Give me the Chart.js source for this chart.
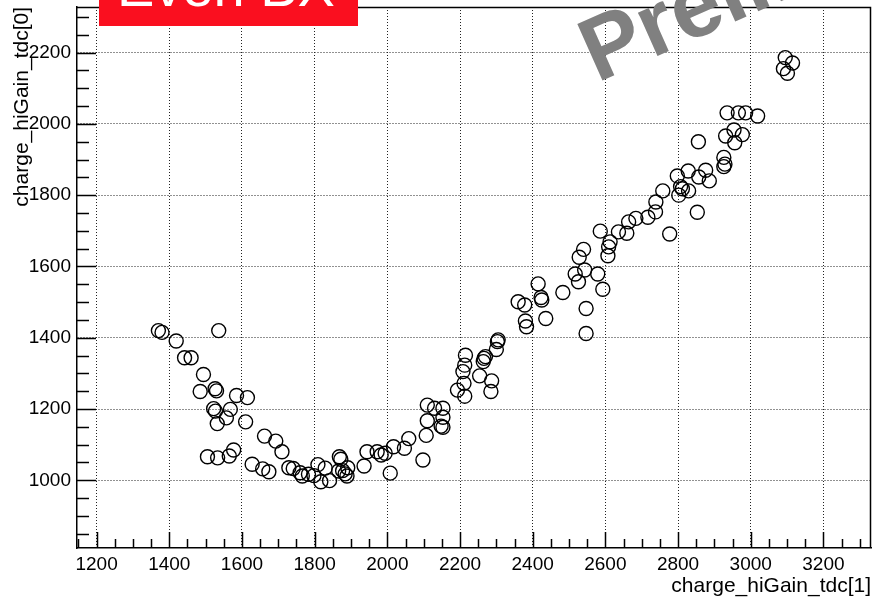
<!DOCTYPE html>
<html>
<head>
<meta charset="utf-8">
<script src="https://cdn.jsdelivr.net/npm/chart.js@4.4.0/dist/chart.umd.min.js"></script>
<style>
  body { margin: 0; background: #fff; }
  canvas { display: block; }
</style>
</head>
<body>
<canvas id="grafico" width="873" height="599"></canvas>
<script>
// charge_hiGain_tdc[1] (eixo x)
const tdc1 = [
  1370, 1380, 1419, 1536, 1442, 1460, 1494, 1485, 1526, 1530, 1585, 1615, 1522, 1527,
  1568, 1557, 1532, 1610, 1662, 1693, 1710, 1505, 1533, 1565, 1577, 1628, 1657, 1674,
  1729, 1741, 1760, 1766, 1783, 1798, 1809, 1829, 1817, 1841, 1868, 1866, 1877, 1889,
  1872, 1891, 1884, 1936, 1944, 1972, 1983, 1994, 2008, 2017, 2047, 2059, 2098, 2107,
  2110, 2110, 2130, 2153, 2153, 2148, 2153, 2193, 2211, 2213, 2208, 2213, 2215, 2254,
  2264, 2270, 2285, 2287, 2300, 2303, 2305, 2266, 2360, 2378, 2380, 2383, 2415, 2423,
  2425, 2436, 2483, 2547, 2547, 2517, 2526, 2543, 2579, 2593, 2528, 2540, 2586, 2607,
  2609, 2613, 2636, 2659, 2664, 2684, 2717, 2738, 2739, 2758, 2777, 2798, 2802, 2807,
  2812, 2829, 2828, 2853, 2857, 2876, 2886, 2856, 2926, 2926, 2929, 2931, 2935, 2954,
  2956, 2977, 2966, 2986, 3019, 3095, 3115, 3090, 3101
];
// charge_hiGain_tdc[0] (eixo y)
const tdc0 = [
  1420, 1415, 1391, 1420, 1344, 1344, 1297, 1249, 1257, 1251, 1238, 1232, 1201, 1194,
  1199, 1175, 1159, 1164, 1124, 1110, 1080, 1066, 1063, 1068, 1085, 1045, 1032, 1024,
  1035, 1033, 1021, 1012, 1017, 1013, 1044, 1034, 996, 999, 1066, 1026, 1027, 1012,
  1059, 1035, 1018, 1040, 1080, 1080, 1071, 1076, 1020, 1094, 1090, 1117, 1057, 1126,
  1167, 1211, 1202, 1202, 1177, 1152, 1149, 1253, 1272, 1236, 1305, 1323, 1351, 1293,
  1333, 1347, 1249, 1279, 1367, 1389, 1394, 1342, 1501, 1492, 1447, 1431, 1551, 1513,
  1506, 1454, 1527, 1482, 1412, 1579, 1557, 1590, 1579, 1536, 1626, 1648, 1699, 1630,
  1655, 1669, 1697, 1693, 1725, 1735, 1738, 1753, 1781, 1812, 1691, 1854, 1800, 1824,
  1818, 1812, 1868, 1752, 1851, 1870, 1840, 1950, 1906, 1880, 1887, 1966, 2031, 1983,
  1947, 1970, 2031, 2031, 2022, 2186, 2171, 2155, 2142
];

const xTicks = [1200, 1400, 1600, 1800, 2000, 2200, 2400, 2600, 2800, 3000, 3200];
const yTicks = [1000, 1200, 1400, 1600, 1800, 2000, 2200];

const fonte = 'Liberation Sans, Arial, Helvetica, sans-serif';

// moldura, marcas internas, títulos e etiquetas no estilo ROOT
const estiloRoot = {
  id: 'estiloRoot',
  afterDraw(chart) {
    const ctx = chart.ctx;
    const a = chart.chartArea;
    const sx = chart.scales.x;
    const sy = chart.scales.y;
    ctx.save();
    ctx.strokeStyle = '#000';

    // moldura superior e direita
    ctx.lineWidth = 1.5;
    ctx.beginPath();
    ctx.moveTo(a.left, a.top + 0.5);
    ctx.lineTo(a.right - 0.5, a.top + 0.5);
    ctx.lineTo(a.right - 0.5, a.bottom);
    ctx.stroke();

    // marcas do eixo x (para dentro)
    ctx.lineWidth = 1.5;
    ctx.beginPath();
    for (let v = Math.ceil(sx.min / 50) * 50; v <= sx.max; v += 50) {
      const px = Math.round(sx.getPixelForValue(v)) + 0.5;
      const len = v % 200 === 0 ? 16 : 9;
      ctx.moveTo(px, a.bottom);
      ctx.lineTo(px, a.bottom - len);
    }
    // marcas do eixo y
    for (let v = Math.ceil(sy.min / 50) * 50; v <= sy.max; v += 50) {
      const py = Math.round(sy.getPixelForValue(v)) + 0.5;
      const len = v % 200 === 0 ? 19 : 12;
      ctx.moveTo(a.left, py);
      ctx.lineTo(a.left + len, py);
    }
    ctx.stroke();

    // títulos dos eixos
    ctx.fillStyle = '#000';
    ctx.font = '21px ' + fonte;
    ctx.textAlign = 'right';
    ctx.textBaseline = 'alphabetic';
    ctx.fillText('charge_hiGain_tdc[1]', a.right, 592);
    ctx.save();
    ctx.translate(28, 7);
    ctx.rotate(-Math.PI / 2);
    ctx.fillText('charge_hiGain_tdc[0]', 0, 0);
    ctx.restore();

    // marca d'água
    ctx.save();
    ctx.translate(597, 83);
    ctx.rotate(-24 * Math.PI / 180);
    ctx.fillStyle = '#808080';
    ctx.font = 'bold 90px ' + fonte;
    ctx.textAlign = 'left';
    ctx.fillText('Preliminary', 0, 0);
    ctx.restore();

    // caixa "Even BX"
    ctx.fillStyle = '#fa0f1f';
    ctx.fillRect(99, 0, 259, 26);
    ctx.save();
    ctx.beginPath();
    ctx.rect(99, 0, 259, 26);
    ctx.clip();
    ctx.fillStyle = '#fff';
    ctx.font = '56px ' + fonte;
    ctx.textAlign = 'left';
    ctx.fillText('Even BX', 117, 6);
    ctx.restore();

    ctx.restore();
  }
};

const ctxGrafico = document.getElementById('grafico').getContext('2d');
const grafico = new Chart(ctxGrafico, {
  type: 'scatter',
  data: {
    datasets: [{
      label: 'tdc',
      data: tdc1.map((v, i) => ({ x: v, y: tdc0[i] })),
      pointStyle: 'circle',
      pointRadius: 7,
      pointHoverRadius: 7,
      pointBackgroundColor: 'rgba(0,0,0,0)',
      pointBorderColor: '#000',
      pointBorderWidth: 1.4
    }]
  },
  options: {
    responsive: false,
    animation: false,
    events: [],
    layout: { autoPadding: false, padding: { top: 7, right: 2, left: 0, bottom: 0 } },
    plugins: {
      legend: { display: false },
      tooltip: { enabled: false }
    },
    scales: {
      x: {
        type: 'linear',
        min: 1146,
        max: 3331,
        afterBuildTicks: s => { s.ticks = xTicks.map(v => ({ value: v })); },
        afterFit: s => { s.height = 51; s.paddingLeft = 0; s.paddingRight = 0; },
        ticks: {
          color: '#000',
          font: { size: 19, family: fonte },
          padding: 5,
          maxRotation: 0,
          autoSkip: false,
          callback: v => String(v)
        },
        grid: { color: '#222', lineWidth: 1, drawTicks: false },
        border: { color: '#000', width: 1.5, dash: [1, 2] }
      },
      y: {
        type: 'linear',
        min: 810,
        max: 2328,
        afterBuildTicks: s => { s.ticks = yTicks.map(v => ({ value: v })); },
        afterFit: s => { s.width = 77; s.paddingTop = 0; s.paddingBottom = 0; },
        ticks: {
          color: '#000',
          font: { size: 19, family: fonte },
          padding: 6,
          callback: v => String(v)
        },
        grid: { color: '#222', lineWidth: 1, drawTicks: false },
        border: { color: '#000', width: 1.5, dash: [1, 2] }
      }
    }
  },
  plugins: [estiloRoot]
});
</script>
</body>
</html>
